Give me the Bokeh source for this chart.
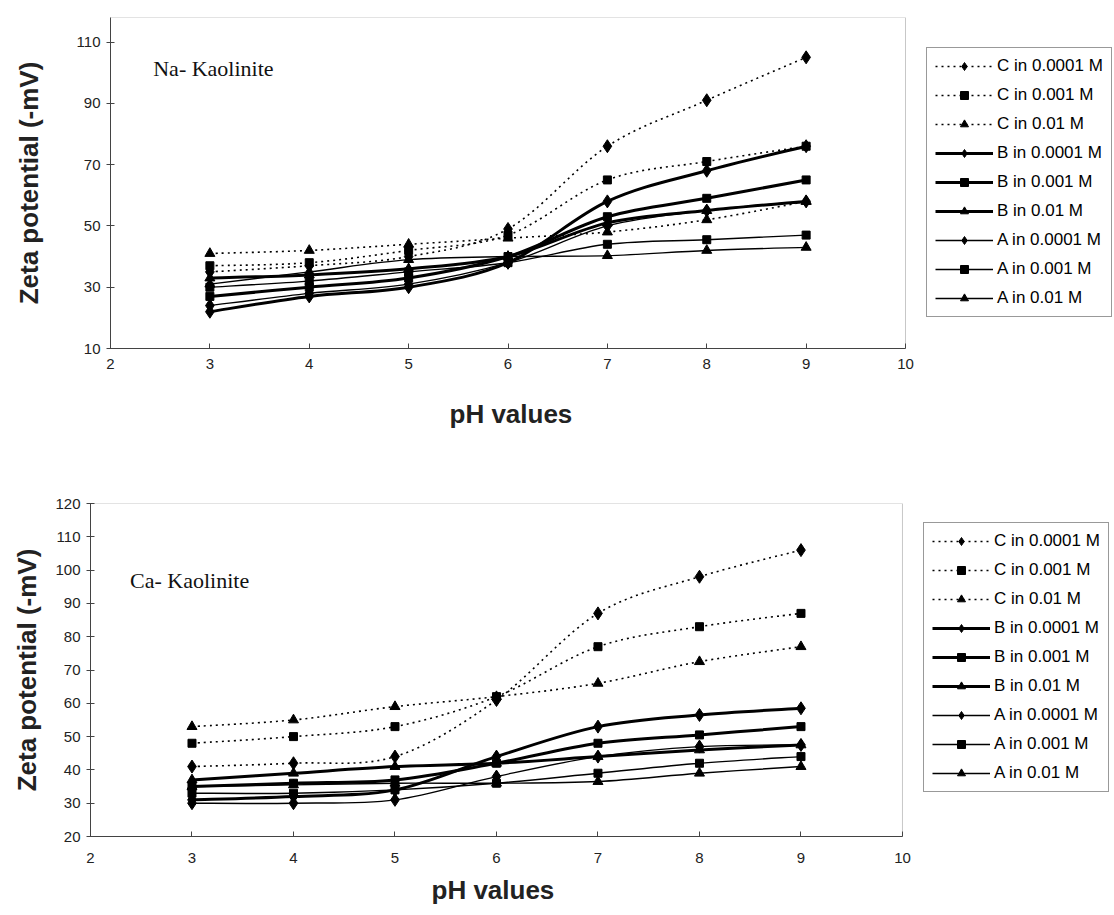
from bokeh.plotting import figure
from bokeh.models import (Range1d, FixedTicker, Legend, LegendItem, Label, ColumnDataSource,
                          BoxAnnotation, Title)
from bokeh.embed import file_html
from bokeh.resources import INLINE

# ---------------- data ----------------
ph = [3, 4, 5, 6, 7, 8, 9]
series_labels = ["C in 0.0001 M", "C in 0.001 M", "C in 0.01 M",
                 "B in 0.0001 M", "B in 0.001 M", "B in 0.01 M",
                 "A in 0.0001 M", "A in 0.001 M", "A in 0.01 M"]

# Na- Kaolinite
na_c_0001 = [35, 37, 40, 49, 76, 91, 105]
na_c_001 = [37, 38, 42, 47, 65, 71, 76]
na_c_01 = [41, 42, 44, 46, 48, 52, 58]
na_b_0001 = [22, 27, 30, 38, 58, 68, 76]
na_b_001 = [27, 30, 33, 40, 53, 59, 65]
na_b_01 = [33, 34, 36, 40, 51, 55, 58]
na_a_0001 = [24, 28, 31, 38, 50, 55, 58]
na_a_001 = [30, 32, 35, 38, 44, 45.5, 47]
na_a_01 = [31, 35, 39, 40, 40.3, 42, 43]

# Ca- Kaolinite
ca_c_0001 = [41, 42, 44, 61, 87, 98, 106]
ca_c_001 = [48, 50, 53, 62, 77, 83, 87]
ca_c_01 = [53, 55, 59, 62, 66, 72.5, 77]
ca_b_0001 = [31, 32, 34, 44, 53, 56.5, 58.5]
ca_b_001 = [35, 36, 37, 42, 48, 50.5, 53]
ca_b_01 = [37, 39, 41, 42, 44, 46, 47.5]
ca_a_0001 = [30, 30, 31, 38, 44, 47, 47.5]
ca_a_001 = [33, 33, 34, 36, 39, 42, 44]
ca_a_01 = [35, 35.5, 36, 36, 36.5, 39, 41]

na_series = [na_c_0001, na_c_001, na_c_01, na_b_0001, na_b_001, na_b_01, na_a_0001, na_a_001, na_a_01]
ca_series = [ca_c_0001, ca_c_001, ca_c_01, ca_b_0001, ca_b_001, ca_b_01, ca_a_0001, ca_a_001, ca_a_01]

x_ticks = [2, 3, 4, 5, 6, 7, 8, 9, 10]
na_y_ticks = [10, 30, 50, 70, 90, 110]
ca_y_ticks = [20, 30, 40, 50, 60, 70, 80, 90, 100, 110, 120]

# ---------------- styles ----------------
markers = ["diamond", "square", "triangle"] * 3
marker_sizes = {"diamond": 13, "square": 8, "triangle": 10}
styles = [("dotted", 1.6)] * 3 + [("solid", 3.0)] * 3 + [("solid", 1.4)] * 3

SANS = "Liberation Sans"
SERIF = "Liberation Serif"


def smooth_segments(xs, ys):
    """Excel-like smoothed line: cubic Bezier control points from neighbouring data points."""
    n = len(xs)
    seg = dict(x0=[], y0=[], x1=[], y1=[], cx0=[], cy0=[], cx1=[], cy1=[])
    for i in range(n - 1):
        im = max(i - 1, 0)
        ip = min(i + 2, n - 1)
        seg["x0"].append(xs[i]); seg["y0"].append(ys[i])
        seg["x1"].append(xs[i + 1]); seg["y1"].append(ys[i + 1])
        seg["cx0"].append(xs[i] + (xs[i + 1] - xs[im]) / 6.0)
        seg["cy0"].append(ys[i] + (ys[i + 1] - ys[im]) / 6.0)
        seg["cx1"].append(xs[i + 1] - (xs[ip] - xs[i]) / 6.0)
        seg["cy1"].append(ys[i + 1] - (ys[ip] - ys[i]) / 6.0)
    return seg


def make_chart(series, y_lo, y_hi, y_ticks, x_end, height, bl, bt, bb, ylab_standoff,
               xl_standoff, title_standoff, title_offset, annot, annot_x, annot_y, leg_x, leg_y):
    p = figure(width=1114, height=height, output_backend="svg", toolbar_location=None,
               x_range=Range1d(2, x_end), y_range=Range1d(y_lo, y_hi),
               min_border_left=bl, min_border_right=0, min_border_top=bt, min_border_bottom=bb)
    p.xgrid.visible = False
    p.ygrid.visible = False
    p.outline_line_color = None
    p.background_fill_color = "white"
    p.border_fill_color = "white"

    # plot-area border (x from 2 to 10)
    p.add_layout(BoxAnnotation(left=2, right=10, bottom=y_lo, top=y_hi,
                               fill_color=None, fill_alpha=0,
                               line_color="#444444", line_width=1))

    items = []
    for k, ys in enumerate(series):
        dash, lw = styles[k]
        seg = smooth_segments(ph, ys)
        br_r = p.bezier(x0="x0", y0="y0", x1="x1", y1="y1", cx0="cx0", cy0="cy0",
                        cx1="cx1", cy1="cy1", source=ColumnDataSource(seg),
                        line_color="black", line_width=lw,
                        line_dash=("2 4" if dash == "dotted" else "solid"))
        m = markers[k]
        sc = p.scatter(ph, ys, marker=m, size=marker_sizes[m],
                       fill_color="black", line_color="black")
        items.append(LegendItem(label=series_labels[k], renderers=[br_r, sc]))

    leg = Legend(items=items, location=(leg_x, leg_y))
    leg.label_text_font = SANS
    leg.label_text_font_size = "17px"
    leg.label_text_color = "black"
    leg.glyph_width = 58
    leg.glyph_height = 20
    leg.label_height = 20
    leg.label_standoff = 4
    leg.spacing = 9
    leg.padding = 8
    leg.margin = 0
    leg.border_line_color = "#333333"
    leg.border_line_width = 1
    leg.background_fill_alpha = 1
    p.add_layout(leg, "center")

    xa = p.xaxis[0]
    xa.bounds = (2, 10)
    xa.ticker = FixedTicker(ticks=x_ticks)
    xa.major_tick_in = 5
    xa.major_tick_out = 0
    xa.minor_tick_in = 0
    xa.minor_tick_out = 0
    xa.axis_line_color = "#444444"
    xa.major_tick_line_color = "#444444"
    xa.major_label_text_font = SANS
    xa.major_label_text_font_size = "15px"
    xa.major_label_text_color = "#222222"
    xa.major_label_standoff = xl_standoff

    p.add_layout(Title(text="pH values", align="left", offset=title_offset,
                       standoff=title_standoff, text_font=SANS, text_font_style="bold",
                       text_font_size="26px", text_color="#222222"), "below")

    ya = p.yaxis[0]
    ya.ticker = FixedTicker(ticks=y_ticks)
    ya.major_tick_in = 4
    ya.major_tick_out = 4
    ya.minor_tick_in = 0
    ya.minor_tick_out = 0
    ya.axis_line_color = "#444444"
    ya.major_tick_line_color = "#444444"
    ya.major_label_text_font = SANS
    ya.major_label_text_font_size = "15px"
    ya.major_label_text_color = "#222222"
    ya.major_label_standoff = 6
    ya.axis_label = "Zeta potential (-mV)"
    ya.axis_label_text_font = SANS
    ya.axis_label_text_font_style = "bold"
    ya.axis_label_text_font_size = "26px"
    ya.axis_label_text_color = "#222222"
    ya.axis_label_standoff = ylab_standoff

    p.add_layout(Label(x=annot_x, y=annot_y, text=annot, text_font=SERIF,
                       text_font_size="22px", text_color="#111111"))
    return p


p1 = make_chart(na_series, 10, 118, na_y_ticks, 12.103, 462, 110, 17, 114, 30,
                10, 50, 339, "Na- Kaolinite", 2.43, 97.4, 816, 31)
p2 = make_chart(ca_series, 20, 120, ca_y_ticks, 12.089, 453, 90, 41, 79, 10,
                16, 14, 341, "Ca- Kaolinite", 2.39, 93, 833, 44)

open("out.html", "w").write(file_html([p1, p2], INLINE))
